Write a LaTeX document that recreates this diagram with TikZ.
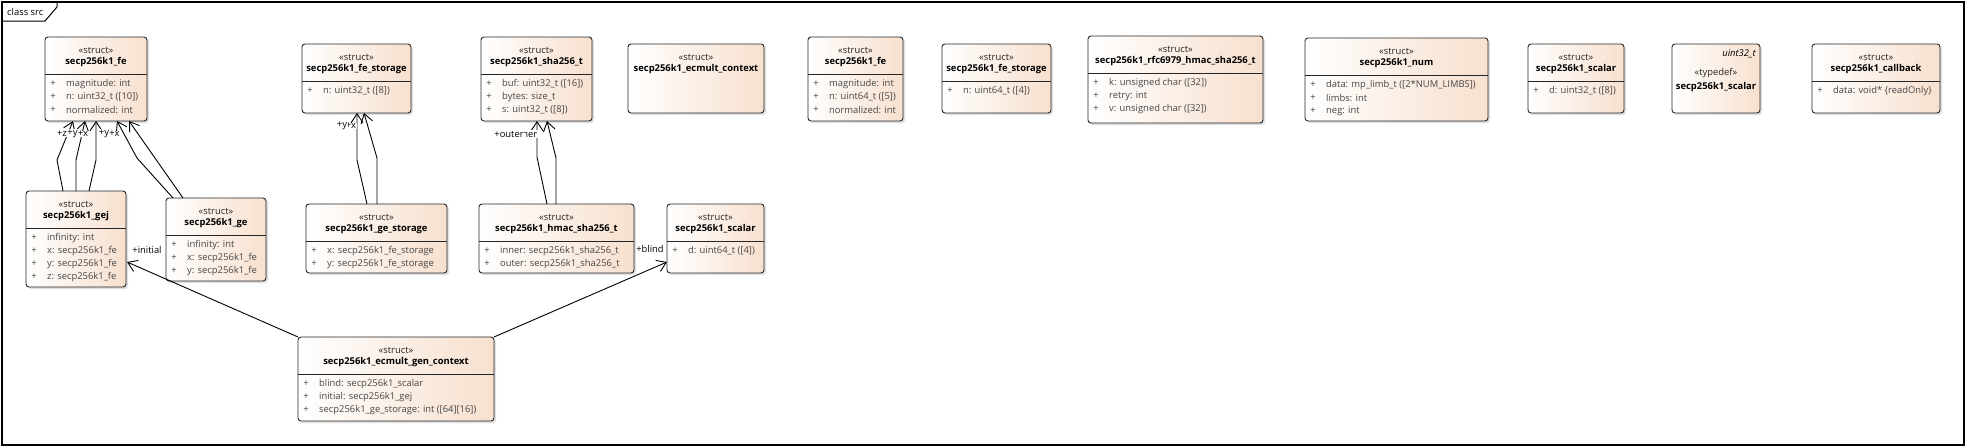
\documentclass[tikz,border=0pt]{standalone}
\usepackage{fontspec}
\setmainfont{Open Sans}
\usetikzlibrary{calc,shadows,arrows.meta}
\definecolor{peach}{RGB}{247,224,206}
\definecolor{attrgray}{RGB}{70,70,70}
\newcommand{\uf}{\fontsize{9.4}{11}\selectfont}
\tikzset{
  umlbox/.style={draw=black!85, line width=0.9pt, rounded corners=3pt,
    left color=white, right color=peach, inner sep=0pt, outer sep=0pt,
    drop shadow={shadow xshift=2pt, shadow yshift=-2pt, fill=black!25, opacity=0.5}},
  stereo/.style={font=\uf, text=black!85, inner sep=0pt},
  cname/.style={font=\uf\bfseries, text=black, inner sep=0pt},
  attr/.style={font=\uf, text=attrgray, anchor=west, inner sep=0pt},
  plus/.style={font=\uf, text=attrgray, inner sep=0pt},
  sepline/.style={draw=black!85, line width=0.9pt},
  assoc/.style={draw=black, line width=0.9pt, -{Straight Barb[length=9pt,width=12pt,line width=0.9pt]}},
  role/.style={font=\uf, fill=white, inner sep=0.6pt, text=black},
}
% box: name, x1, y1, x2, y2
\newcommand{\classbox}[5]{%
  \node[umlbox, minimum width={(#4-#2)*1pt}, minimum height={(#5-#3)*1pt}] (#1) at ({(#2+#4)/2},{(#3+#5)/2}) {};}
\newcommand{\chead}[3]{%
  \node[stereo] (#1-s) at ($(#1.north)+(0,13)$) {#2};
  \node[cname] (#1-n) at ($(#1.north)+(0,25.5)$) {#3};}
\newcommand{\csep}[1]{%
  \draw[sepline] ($(#1.north west)+(0,37)$) -- ($(#1.north east)+(0,37)$);}
\newcommand{\cattr}[3]{%
  \node[plus] (#1-p#2) at ($(#1.north west)+(8,{47+13*(#2-1)})$) {+};
  \node[attr] (#1-a#2) at ($(#1.north west)+(21,{47+13*(#2-1)})$) {#3};}
\begin{document}
\begin{tikzpicture}[x=1pt,y=-1pt]
\useasboundingbox (0,0) rectangle (1966,447);
% frame
\draw[line width=1.3pt] (2,2) rectangle (1964,445);
\draw[line width=1pt] (2,21) -- (45,21) -- (57,7) -- (57,2);
\node[font=\uf, anchor=west, inner sep=0pt] (title) at (7,11.5) {class src};

% ---- boxes ----
\classbox{fea}{45}{37}{147}{121}
\chead{fea}{«struct»}{secp256k1\_fe}\csep{fea}
\cattr{fea}{1}{magnitude: int}
\cattr{fea}{2}{n: uint32\_t ([10])}
\cattr{fea}{3}{normalized: int}

\classbox{gej}{26}{191}{126}{287}
\chead{gej}{«struct»}{secp256k1\_gej}\csep{gej}
\cattr{gej}{1}{infinity: int}
\cattr{gej}{2}{x: secp256k1\_fe}
\cattr{gej}{3}{y: secp256k1\_fe}
\cattr{gej}{4}{z: secp256k1\_fe}

\classbox{ge}{166}{198}{266}{281}
\chead{ge}{«struct»}{secp256k1\_ge}\csep{ge}
\cattr{ge}{1}{infinity: int}
\cattr{ge}{2}{x: secp256k1\_fe}
\cattr{ge}{3}{y: secp256k1\_fe}

\classbox{fsa}{302}{44}{411}{113}
\chead{fsa}{«struct»}{secp256k1\_fe\_storage}\csep{fsa}
\cattr{fsa}{1}{n: uint32\_t ([8])}

\classbox{gst}{306}{204}{447}{273}
\chead{gst}{«struct»}{secp256k1\_ge\_storage}\csep{gst}
\cattr{gst}{1}{x: secp256k1\_fe\_storage}
\cattr{gst}{2}{y: secp256k1\_fe\_storage}

\classbox{sha}{481}{37}{592}{121}
\chead{sha}{«struct»}{secp256k1\_sha256\_t}\csep{sha}
\cattr{sha}{1}{buf: uint32\_t ([16])}
\cattr{sha}{2}{bytes: size\_t}
\cattr{sha}{3}{s: uint32\_t ([8])}

\classbox{hmac}{479}{204}{634}{273}
\chead{hmac}{«struct»}{secp256k1\_hmac\_sha256\_t}\csep{hmac}
\cattr{hmac}{1}{inner: secp256k1\_sha256\_t}
\cattr{hmac}{2}{outer: secp256k1\_sha256\_t}

\classbox{ecm}{628}{44}{764}{113}
\chead{ecm}{«struct»}{secp256k1\_ecmult\_context}

\classbox{scb}{667}{204}{764}{273}
\chead{scb}{«struct»}{secp256k1\_scalar}\csep{scb}
\cattr{scb}{1}{d: uint64\_t ([4])}

\classbox{feb}{808}{37}{903}{121}
\chead{feb}{«struct»}{secp256k1\_fe}\csep{feb}
\cattr{feb}{1}{magnitude: int}
\cattr{feb}{2}{n: uint64\_t ([5])}
\cattr{feb}{3}{normalized: int}

\classbox{fsb}{942}{44}{1051}{113}
\chead{fsb}{«struct»}{secp256k1\_fe\_storage}\csep{fsb}
\cattr{fsb}{1}{n: uint64\_t ([4])}

\classbox{rfc}{1088}{36}{1263}{123}
\chead{rfc}{«struct»}{secp256k1\_rfc6979\_hmac\_sha256\_t}\csep{rfc}
\cattr{rfc}{1}{k: unsigned char ([32])}
\cattr{rfc}{2}{retry: int}
\cattr{rfc}{3}{v: unsigned char ([32])}

\classbox{num}{1305}{38}{1488}{121}
\chead{num}{«struct»}{secp256k1\_num}\csep{num}
\cattr{num}{1}{data: mp\_limb\_t ([2*NUM\_LIMBS])}
\cattr{num}{2}{limbs: int}
\cattr{num}{3}{neg: int}

\classbox{scc}{1528}{44}{1624}{113}
\chead{scc}{«struct»}{secp256k1\_scalar}\csep{scc}
\cattr{scc}{1}{d: uint32\_t ([8])}

\classbox{tds}{1672}{44}{1760}{113}
\node[font=\uf\itshape, anchor=east, inner sep=0pt] (tds-t) at ($(tds.north east)+(-4,10)$) {uint32\_t};
\node[stereo] (tds-s) at ($(tds.north)+(0,29)$) {«typedef»};
\node[cname] (tds-n) at ($(tds.north)+(0,43)$) {secp256k1\_scalar};

\classbox{cbk}{1812}{44}{1940}{113}
\chead{cbk}{«struct»}{secp256k1\_callback}\csep{cbk}
\cattr{cbk}{1}{data: void* \{readOnly\}}

\classbox{gen}{298}{337}{494}{421}
\chead{gen}{«struct»}{secp256k1\_ecmult\_gen\_context}\csep{gen}
\cattr{gen}{1}{blind: secp256k1\_scalar}
\cattr{gen}{2}{initial: secp256k1\_gej}
\cattr{gen}{3}{secp256k1\_ge\_storage: int ([64][16])}

% ---- connectors ----
\draw[assoc] ($(gej.north west)+(37,0)$) -- (57,160) -- ($(fea.south west)+(28,0)$);
\draw[assoc] ($(gej.north west)+(50,0)$) -- (76,160) -- ($(fea.south west)+(40,0)$);
\draw[assoc] ($(gej.north west)+(63,0)$) -- (96,160) -- ($(fea.south west)+(51,0)$);
\draw[assoc] ($(ge.north west)+(7,0)$) -- (137,158) -- ($(fea.south west)+(72,0)$);
\draw[assoc] ($(ge.north west)+(17,0)$) -- ($(fea.south west)+(84,0)$);

\draw[assoc] ($(gst.north west)+(61,0)$) -- (357,160) -- ($(fsa.south west)+(55,0)$);
\draw[assoc] ($(gst.north west)+(71,0)$) -- (377,158) -- ($(fsa.south west)+(62,0)$);

\draw[assoc] ($(hmac.north west)+(68,0)$) -- (537,157) -- ($(sha.south west)+(56,0)$);
\draw[assoc] ($(hmac.north west)+(77,0)$) -- (556,158) -- ($(sha.south west)+(66,0)$);

\draw[assoc] (gen.north west) -- ($(gej.north east)+(1,71)$);
\draw[assoc] (gen.north east) -- ($(scb.north west)+(0,58)$);

% ---- role labels ----
\node[role] (r1) at (62,134) {+z};
\node[role] (r2) at (72.5,134) {+y};
\node[role] (r3) at (83,134) {+x};
\node[role] (r4) at (104,134) {+y};
\node[role] (r5) at (114.5,134) {+x};
\node[role] (r7) at (351,126) {+x};
\node[role] (r6) at (342,126) {+y};
\node[role] (r9) at (523,134) {+inner};
\node[role] (r8) at (509,134) {+outer};
\node[role] (r10) at (147,250) {+initial};
\node[role] (r11) at (650,249) {+blind};
\end{tikzpicture}
\end{document}
